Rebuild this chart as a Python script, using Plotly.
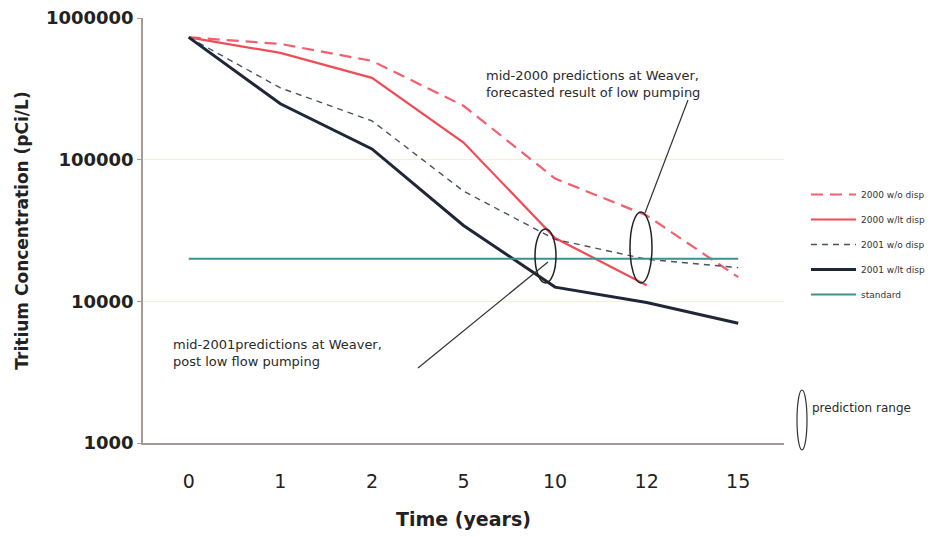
import plotly.graph_objects as go

years = ["0", "1", "2", "5", "10", "12", "15"]
s2000_wo = [730000, 656000, 498000, 240000, 73500, 40400, 14800]
s2000_wlt = [730000, 567000, 378000, 132000, 28000, 13000, None]
s2001_wo = [730000, 321000, 188000, 60000, 27400, 19800, 17300]
s2001_wlt = [730000, 248000, 119000, 34300, 12600, 9800, 7000]
standard = [20000] * 7
ytickvals = [1000, 10000, 100000, 1000000]
yticktext = ["1000", "10000", "100000", "1000000"]

# page has an 8px body margin; plot area in page pixels is L..R, T..B
OFF = 8
W, H = 935 - OFF, 537 - OFF
L, R, T, B = 143, 784, 18, 443


def px(x):
    return (x - L) / (R - L)


def py(y):
    return (B - y) / (B - T)


FONT = "DejaVu Sans, Arial, sans-serif"

fig = go.Figure()
fig.add_trace(go.Scatter(x=years, y=s2000_wo, mode="lines", name="2000 w/o disp",
                         line=dict(color="#f2606e", width=2.2, dash="12px,7px"), legendgroup="a"))
fig.add_trace(go.Scatter(x=years, y=s2000_wlt, mode="lines", name="2000 w/lt disp",
                         line=dict(color="#f04c58", width=2.2), legendgroup="b"))
fig.add_trace(go.Scatter(x=years, y=s2001_wo, mode="lines", name="2001 w/o disp",
                         line=dict(color="#4a5262", width=1.4, dash="6px,5px"), legendgroup="c"))
fig.add_trace(go.Scatter(x=years, y=s2001_wlt, mode="lines", name="2001 w/lt disp",
                         line=dict(color="#1e2638", width=3), legendgroup="d"))
fig.add_trace(go.Scatter(x=years, y=standard, mode="lines", name="standard",
                         line=dict(color="#3f8f93", width=2), legendgroup="e"))

shapes = [
    dict(type="circle", xref="paper", yref="paper", x0=px(535), x1=px(556), y0=py(283), y1=py(229),
         line=dict(color="#222", width=1.5)),
    dict(type="circle", xref="paper", yref="paper", x0=px(630), x1=px(652), y0=py(283), y1=py(212),
         line=dict(color="#222", width=1.5)),
    dict(type="circle", xref="paper", yref="paper", x0=px(797), x1=px(807), y0=py(450), y1=py(390),
         line=dict(color="#333", width=1.2)),
    dict(type="line", xref="paper", yref="paper", x0=px(688), y0=py(100), x1=px(645), y1=py(213),
         line=dict(color="#333", width=1.2)),
    dict(type="line", xref="paper", yref="paper", x0=px(548), y0=py(262), x1=px(418), y1=py(368),
         line=dict(color="#333", width=1.2)),
]

annotations = [
    dict(xref="paper", yref="paper", x=px(484), y=py(84), xanchor="left", yanchor="middle",
         text="mid-2000 predictions at Weaver,<br>forecasted result of low pumping",
         showarrow=False, align="left", font=dict(family=FONT, size=13, color="#2a2a2a")),
    dict(xref="paper", yref="paper", x=px(171), y=py(353), xanchor="left", yanchor="middle",
         text="mid-2001predictions at Weaver,<br>post low flow pumping",
         showarrow=False, align="left", font=dict(family=FONT, size=13, color="#2a2a2a")),
    dict(xref="paper", yref="paper", x=px(810), y=py(408), xanchor="left", yanchor="middle",
         text="prediction range", showarrow=False,
         font=dict(family=FONT, size=12, color="#2a2a2a")),
]

fig.update_layout(
    width=W, height=H,
    margin=dict(l=L - OFF, r=W - (R - OFF), t=T - OFF, b=H - (B - OFF), autoexpand=False),
    paper_bgcolor="white", plot_bgcolor="white",
    font=dict(family=FONT, color="#222"),
    shapes=shapes, annotations=annotations,
    legend=dict(x=px(806), y=py(180), xanchor="left", yanchor="top",
                font=dict(family=FONT, size=9, color="#333"),
                itemwidth=45, tracegroupgap=6, bgcolor="rgba(0,0,0,0)"),
)
fig.update_xaxes(type="category", range=[-0.5, 6.5], showline=True, linecolor="#a59a94",
                 linewidth=1.5, showgrid=False, ticks="outside", ticklen=20, automargin=False,
                 tickcolor="rgba(0,0,0,0)", tickfont=dict(family=FONT, size=19, color="#222"),
                 ticklabeloverflow="allow",
                 title=dict(text="<b>Time (years)</b>", font=dict(family=FONT, size=19, color="#222"),
                            standoff=22))
fig.update_yaxes(type="log", range=[3, 6], showline=True, linecolor="#a59a94", linewidth=1.5,
                 tickvals=ytickvals, ticktext=[f"<b>{t}</b>" for t in yticktext],
                 ticks="outside", ticklen=4, tickcolor="#a59a94", automargin=False,
                 ticklabeloverflow="allow",
                 showgrid=True, gridcolor="#f4efd8", gridwidth=1,
                 tickfont=dict(family=FONT, size=18, color="#222"),
                 title=dict(text="<b>Tritium Concentration (pCi/L)</b>",
                            font=dict(family=FONT, size=17, color="#222"), standoff=13))

fig.write_html("out.html")
